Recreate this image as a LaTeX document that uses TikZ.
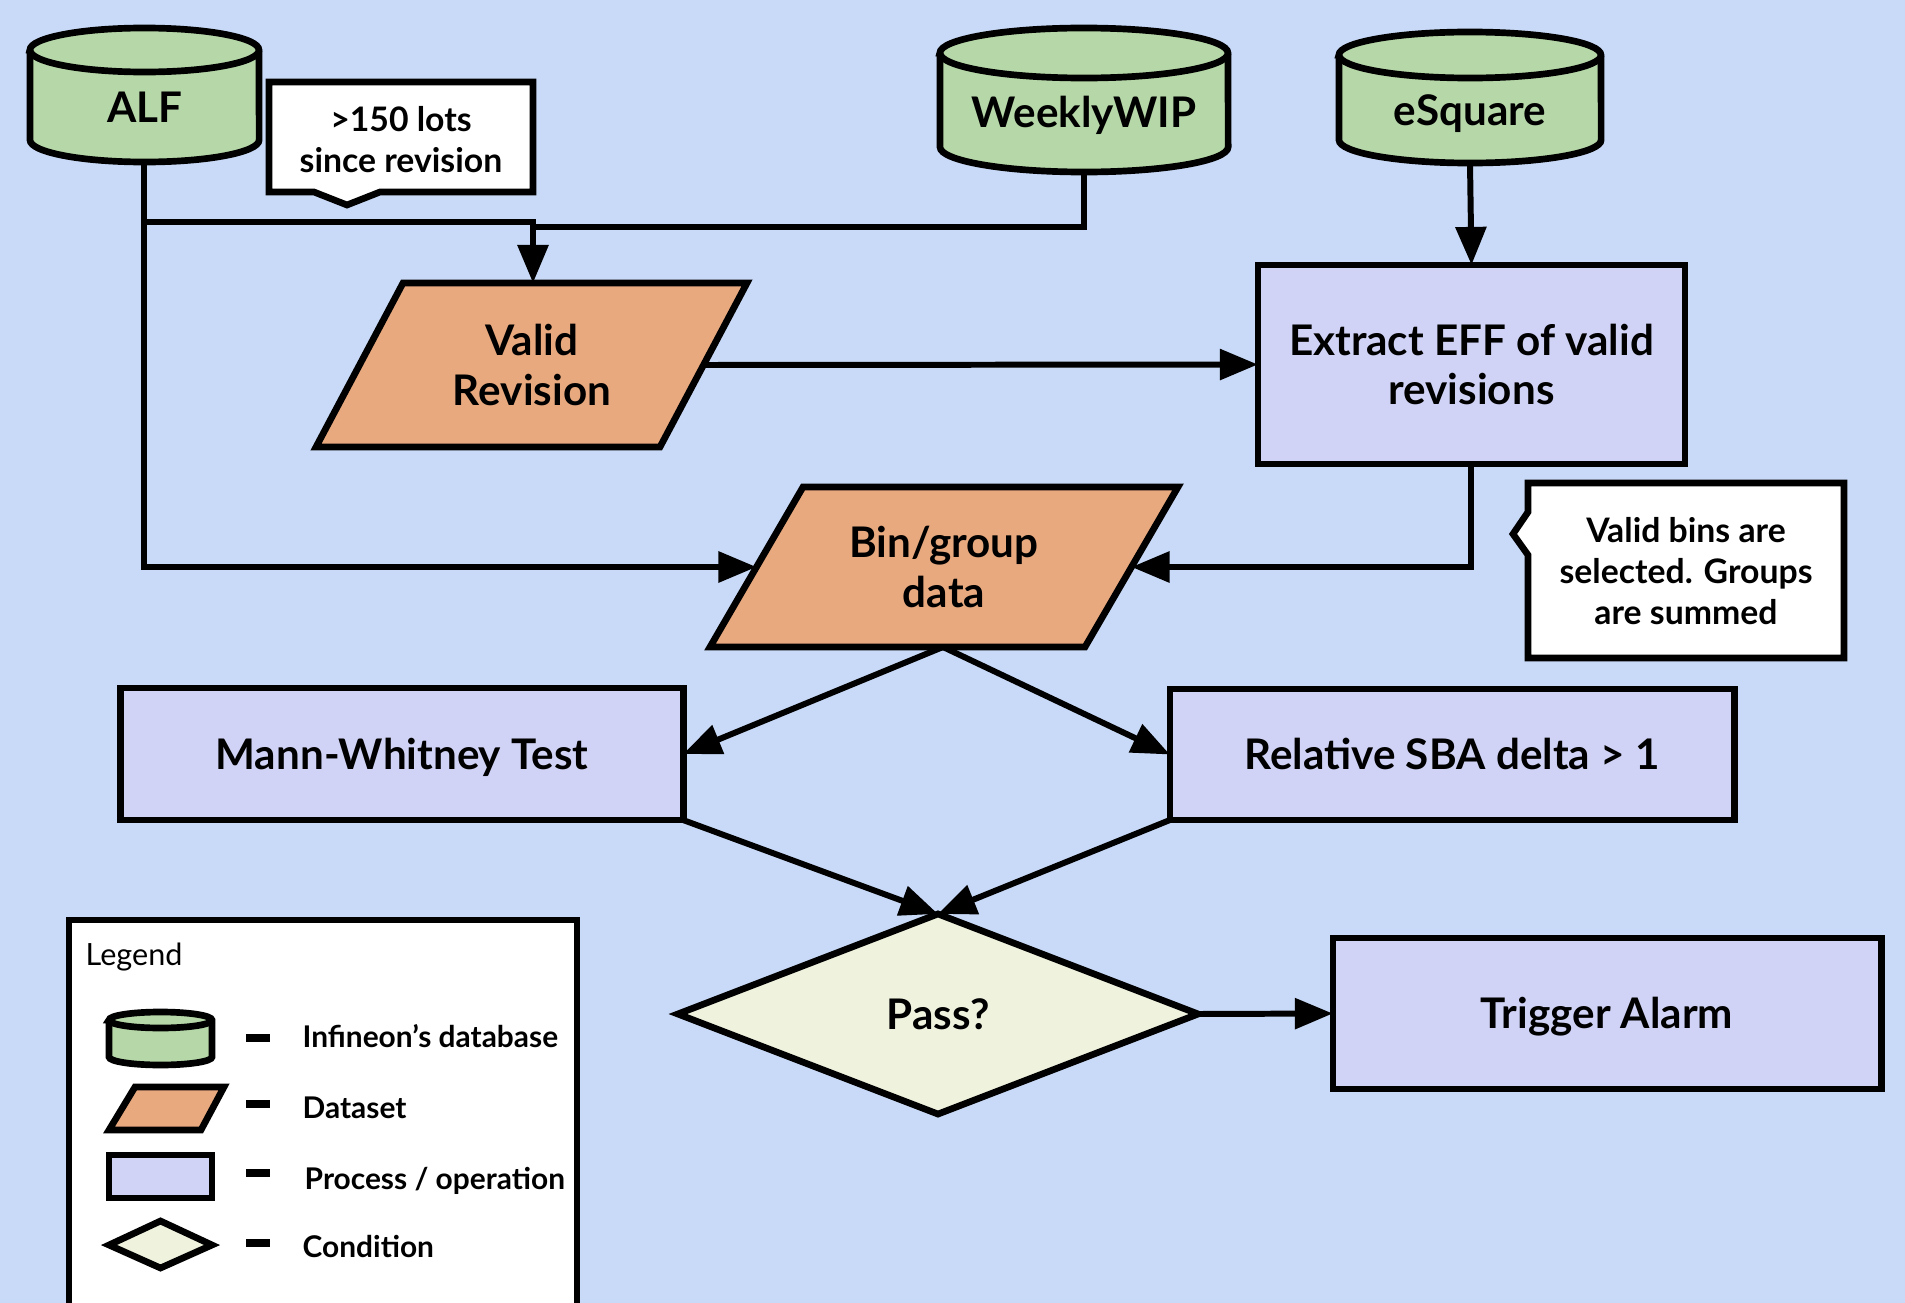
\documentclass[tikz,border=0pt]{standalone}
\usepackage{fontspec}
\setmainfont{Lato}
\usetikzlibrary{arrows.meta,shapes.geometric}
\definecolor{bgc}{HTML}{C9DAF8}
\definecolor{dbc}{HTML}{B6D7A8}
\definecolor{dsc}{HTML}{E8A97F}
\definecolor{procc}{HTML}{D0D3F5}
\definecolor{condc}{HTML}{EFF3DE}
\newcommand{\mainf}{\bfseries\fontsize{12}{14.2}\selectfont}
\newcommand{\calf}{\bfseries\fontsize{9.6}{11.7}\selectfont}
\newcommand{\legf}{\bfseries\fontsize{8.5}{10}\selectfont}
\newcommand{\dbcyl}[5]{%
  \filldraw[shp,fill=dbc] (#1,{#3+#5}) -- (#1,{#4-#5})
    arc[start angle=180,end angle=360,x radius={(#2-#1)*0.1422638pt},y radius={#5*0.2845276pt}]
    -- (#2,{#3+#5})
    arc[start angle=0,end angle=180,x radius={(#2-#1)*0.1422638pt},y radius={#5*0.2845276pt}]
    -- cycle;
  \draw[shp] (#1,{#3+#5})
    arc[start angle=180,end angle=360,x radius={(#2-#1)*0.1422638pt},y radius={#5*0.2845276pt}];}
\begin{document}
\begin{tikzpicture}[x=0.01cm,y=-0.01cm,
  shp/.style={draw=black,line width=1.9pt,line join=miter},
  proc/.style={shp,fill=procc,rectangle,inner sep=0pt,outer sep=0pt,align=center,font=\mainf},
  one/.style={text height=8.6pt,text depth=0pt},
  lbl/.style={font=\mainf,align=center,inner sep=0pt},
  clbl/.style={font=\calf,align=center,inner sep=0pt},
  leg/.style={font=\legf,anchor=base west,inner sep=0pt},
  plain/.style={line width=1.7pt},
  conn/.style={line width=1.7pt,-{Triangle[length=3.8mm,width=3mm]}},
  legdash/.style={line width=2.2pt}]
\clip (0,0) rectangle (1905,1303);
\fill[bgc] (0,0) rectangle (1905,1303);

% databases
\dbcyl{30}{259}{28}{162}{22}
\node[lbl,one] (alf) at (145,107) {ALF};
\coordinate (alfS) at (144,162);
\coordinate (alfJ) at (144,222);
\dbcyl{940}{1228}{28}{172}{25}
\node[lbl,one] (wip) at (1084,112) {WeeklyWIP};
\coordinate (wipS) at (1084,172);
\dbcyl{1339}{1601}{32}{163}{23}
\node[lbl,one] (esq) at (1470,110) {eSquare};
\coordinate (esqS) at (1470,163);

% callout 1
\filldraw[shp,fill=white] (269,82) -- (533,82) -- (533,192) -- (380,192) -- (347,205) -- (314,192) -- (269,192) -- cycle;
\node[clbl] (c1) at (401,140) {>150 lots\\since revision};

% Valid Revision
\filldraw[shp,fill=dsc] (403,283) -- (747,283) -- (660,447) -- (316,447) -- cycle;
\node[lbl] (vr) at (532,365) {Valid\\Revision};
\coordinate (vrN) at (533,283);
\coordinate (vrJ) at (533,227);
\coordinate (vrE) at (703,365);

% Extract
\node[proc,minimum width=4.27cm,minimum height=1.99cm] (ext) at (1471.5,364.5) {Extract EFF of valid\\revisions};
\coordinate (extS) at (1471,464.5);

% callout 2
\filldraw[shp,fill=white] (1528,483) -- (1844,483) -- (1844,658) -- (1528,658) -- (1528,555) -- (1513,534) -- (1528,512) -- cycle;
\node[clbl] (c2) at (1686,571) {Valid bins are\\selected. Groups\\are summed};

% Bin/group data
\filldraw[shp,fill=dsc] (803,487) -- (1178,487) -- (1085,647) -- (710,647) -- cycle;
\node[lbl] (bin) at (944,567) {Bin/group\\data};
\coordinate (binW) at (756.5,567);
\coordinate (binE) at (1131.5,567);
\coordinate (binS) at (943,647);

% tests
\node[proc,one,minimum width=5.62cm,minimum height=1.32cm] (mann) at (402,754) {Mann-Whitney Test};
\node[proc,one,minimum width=5.64cm,minimum height=1.31cm] (rel) at (1452,754.5) {Relative SBA delta > 1};

% condition
\node[shp,diamond,fill=condc,inner sep=0pt,outer sep=0pt,minimum width=5.2cm,minimum height=2cm,font=\mainf,one] (pass) at (938,1014) {Pass?};
\node[proc,one,minimum width=5.48cm,minimum height=1.51cm] (trig) at (1607,1013.5) {Trigger Alarm};

% connectors
\draw[conn] (alfS) |- (binW);
\draw[conn] (alfJ) -| (vrN);
\draw[plain] (wipS) |- (vrJ);
\draw[conn] (esqS) -- (ext.north);
\draw[conn] (vrE) -- (ext.west);
\draw[conn] (extS) |- (binE);
\draw[conn] (binS) -- (mann.east);
\draw[conn] (binS) -- (rel.west);
\draw[conn] (mann.south east) -- (pass.north);
\draw[conn] (rel.south west) -- (pass.north);
\draw[conn] (pass.east) -- (trig.west);

% legend
\filldraw[shp,fill=white] (69,920) rectangle (577,1340);
\node[font=\fontsize{8.7}{10}\selectfont,anchor=base west,inner sep=0pt] (legt) at (85,965) {Legend};
\dbcyl{109}{212}{1012}{1065}{8}
\filldraw[shp,fill=dsc] (135,1087) -- (224,1087) -- (201,1130) -- (109,1130) -- cycle;
\filldraw[shp,fill=procc] (109,1155) rectangle (212,1198);
\filldraw[shp,fill=condc] (109,1245) -- (160.5,1221) -- (212,1245) -- (160.5,1268) -- cycle;
\draw[legdash] (246,1038) -- (270,1038);
\draw[legdash] (246,1104) -- (270,1104);
\draw[legdash] (246,1173) -- (270,1173);
\draw[legdash] (246,1243) -- (270,1243);
\node[leg] (l1) at (302,1047) {Infineon’s database};
\node[leg] (l2) at (302,1118) {Dataset};
\node[leg] (l3) at (304,1189) {Process / operation};
\node[leg] (l4) at (302,1257) {Condition};
\end{tikzpicture}
\end{document}
